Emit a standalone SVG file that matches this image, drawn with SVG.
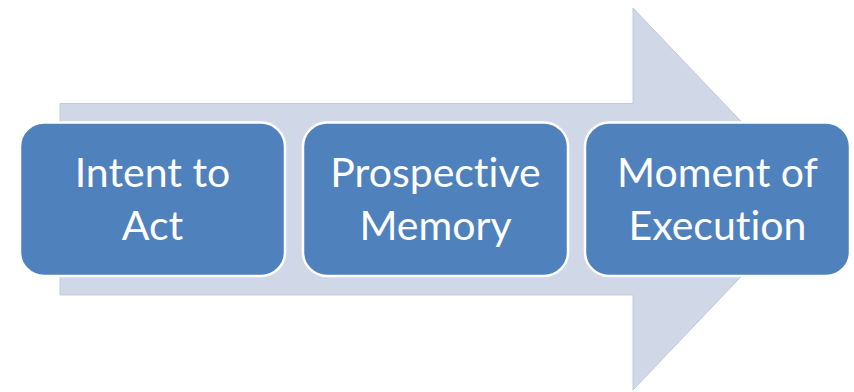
<svg xmlns="http://www.w3.org/2000/svg" width="854" height="392" viewBox="0 0 854 392">
<style>
.box{fill:#4F81BD;stroke:#FFFFFF;stroke-width:2.5}
.lbl{font-family:Lato,"Liberation Sans",sans-serif;font-size:41px;fill:#FFFFFF;text-anchor:middle;font-variant-ligatures:none;font-feature-settings:"liga" 0,"clig" 0}
</style>
<rect width="854" height="392" fill="#FFFFFF"/>
<g id="arrow">
<path d="M60,103.5 H633 V8 L815,199 L633,390 V295 H60 Z" fill="#D0D8E8" stroke="#C4CAD4" stroke-width="1"/>
</g>
<g id="connectors"></g>
<g id="node1">
<rect class="box" x="20" y="122.5" width="265" height="153.5" rx="24"/>
<text class="lbl" x="152.5" y="187">Intent to</text>
<text class="lbl" x="152.5" y="240">Act</text>
</g>
<g id="node2">
<rect class="box" x="303" y="122.5" width="265" height="153.5" rx="24"/>
<text class="lbl" x="435.5" y="187">Prospective</text>
<text class="lbl" x="435.5" y="240">Memory</text>
</g>
<g id="node3">
<rect class="box" x="585" y="122.5" width="265" height="153.5" rx="24"/>
<text class="lbl" x="717.5" y="187">Moment of</text>
<text class="lbl" x="717.5" y="240">Execution</text>
</g>
</svg>
